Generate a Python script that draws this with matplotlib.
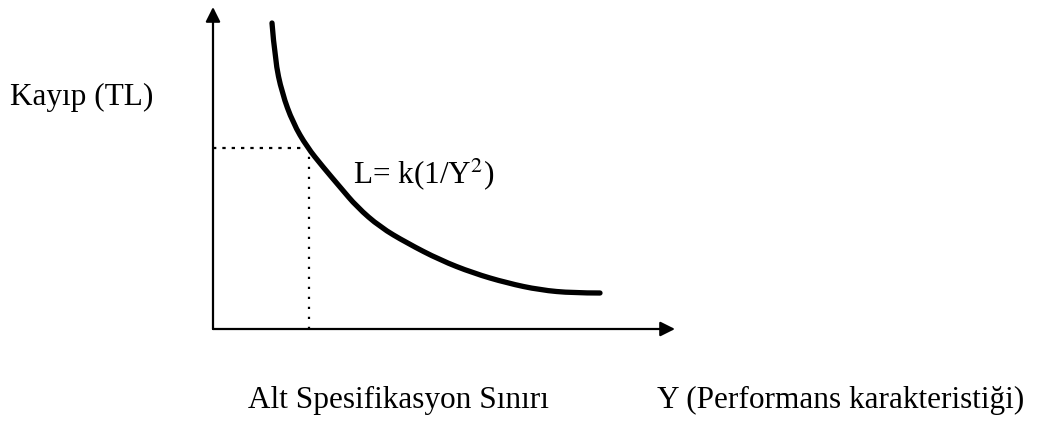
import numpy as np
import matplotlib
matplotlib.use('Agg')
import matplotlib.pyplot as plt
from matplotlib.path import Path
from matplotlib.patches import PathPatch

plt.rcParams['font.family'] = ['Liberation Serif', 'DejaVu Serif']
plt.rcParams['mathtext.fontset'] = 'stix'

# loss curve L = k(1/Y^2) (Y, L in drawing units)
curve_y = [59, 62, 69, 80, 94, 110, 127, 144, 167, 194, 227, 260, 294, 327, 360, 387]
curve_l = [306, 269, 236, 206, 182, 162, 142, 122, 102, 86, 69, 56, 46, 39, 36, 36]

# lower spec limit point
spec_y = 96
spec_l = 181

# axis lengths
y_axis_top = 322
x_axis_end = 462

lbl_loss = 'Kayıp (TL)'
lbl_formula = 'L= k(1/Y$^{2}$)'
lbl_spec = 'Alt Spesifikasyon Sınırı'
lbl_perf = 'Y (Performans karakteristiği)'

fig = plt.figure(figsize=(10.4, 4.26), dpi=100)
ax = fig.add_axes([0, 0, 1, 1])
ax.set_xlim(-213, 827)
ax.set_ylim(-97, 329)
ax.axis('off')

# axes with arrow heads
ax.annotate('', xy=(0, y_axis_top), xytext=(0, 0),
            arrowprops=dict(arrowstyle='-|>', lw=1.6, color='k',
                            mutation_scale=22, shrinkA=0, shrinkB=0))
ax.annotate('', xy=(x_axis_end, 0), xytext=(0, 0),
            arrowprops=dict(arrowstyle='-|>', lw=1.6, color='k',
                            mutation_scale=22, shrinkA=0, shrinkB=0))

# dotted guides
ax.plot([0, spec_y - 4], [spec_l, spec_l], color='k', lw=1.6,
        linestyle=(0, (1.5, 2.7)))
ax.plot([spec_y, spec_y], [0, spec_l - 4], color='k', lw=1.6,
        linestyle=(0, (1, 3.5)))

# curve drawn as a smooth quadratic path through the read points
pts = list(zip(curve_y, curve_l))
verts = [pts[0]]
codes = [Path.MOVETO]
for i in range(1, len(pts) - 1):
    mid = ((pts[i][0] + pts[i + 1][0]) / 2, (pts[i][1] + pts[i + 1][1]) / 2)
    if i == len(pts) - 2:
        mid = pts[i + 1]
    verts += [pts[i], mid]
    codes += [Path.CURVE3, Path.CURVE3]
ax.add_patch(PathPatch(Path(verts, codes), facecolor='none', edgecolor='k',
                       lw=3.8, capstyle='round', joinstyle='round'))

fs = 22.5
ax.text(-203, 224, lbl_loss, fontsize=fs, va='baseline', ha='left')
ax.text(140, 146, lbl_formula, fontsize=fs, va='baseline', ha='left')
ax.text(35, -79, lbl_spec, fontsize=fs, va='baseline', ha='left')
ax.text(444, -79, lbl_perf, fontsize=fs, va='baseline', ha='left')

fig.savefig('out.png', dpi=100, facecolor='white')
